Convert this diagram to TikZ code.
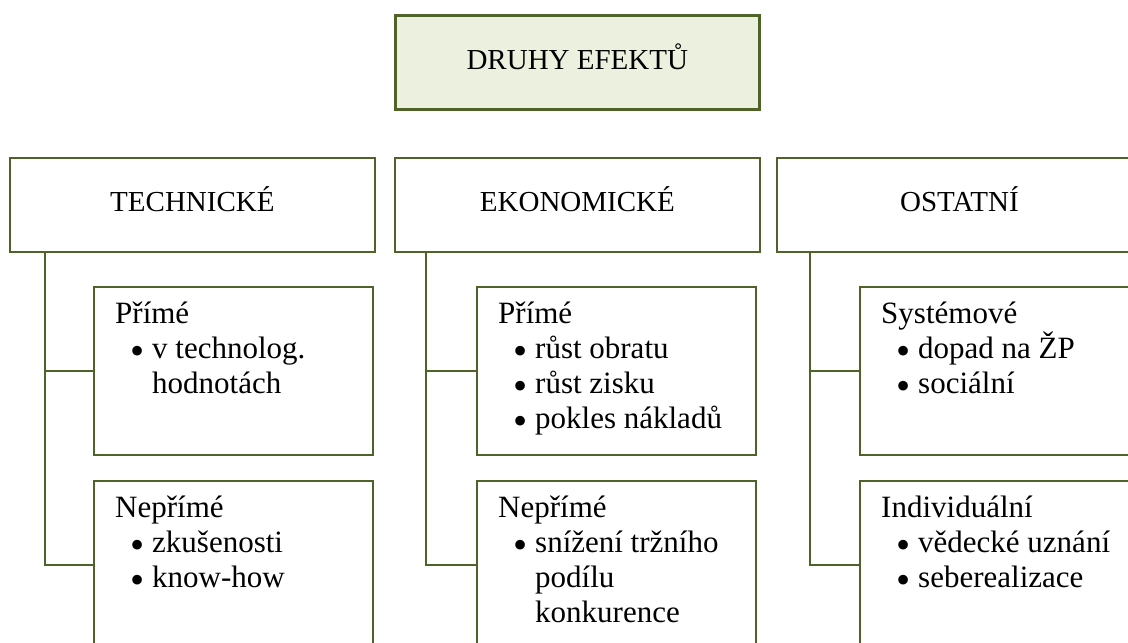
\documentclass[tikz,border=0pt]{standalone}
\usepackage{fontspec}
\setmainfont{Liberation Serif}
\usetikzlibrary{positioning}
\definecolor{olivedark}{HTML}{4F6228}
\definecolor{olivelight}{HTML}{EBF1DE}
\newcommand{\bod}{\hspace*{15pt}\makebox[22pt][l]{\smash{\raisebox{-6pt}{\scalebox{1.3}{\textbullet}}}}}
\newcommand{\odsaz}{\hspace*{37pt}}

\tikzset{
  hlavni/.style={draw=olivedark, line width=2.6pt, fill=olivelight, anchor=north west, inner sep=0pt,
    minimum width=364pt, minimum height=94pt, font=\fontsize{29}{34}\selectfont, text height=20pt, text depth=6pt},
  druh/.style={draw=olivedark, line width=1.8pt, anchor=north west, inner sep=0pt,
    minimum width=365pt, minimum height=94pt, font=\fontsize{29}{34}\selectfont, text height=20pt, text depth=6pt},
  podbox/.style={draw=olivedark, line width=1.8pt, anchor=north west, inner sep=0pt,
    minimum width=279pt, minimum height=168pt},
  popis/.style={anchor=north west, inner sep=0pt, align=left, font=\fontsize{31}{35}\selectfont},
  spoj/.style={draw=olivedark, line width=1.8pt}
}

\begin{document}
\begin{tikzpicture}[x=1pt, y=-1pt]
\useasboundingbox (0,0) rectangle (1128,643);
\clip (0,0) rectangle (1128,643);

% hlavni box
\node[hlavni] (druhy) at (394,14) {DRUHY EFEKTŮ};

% tri druhy
\node[druh] (tech) at (9,157) {TECHNICKÉ};
\node[druh] (ekon) at (394,157) {EKONOMICKÉ};
\node[druh] (ost) at (776,157) {OSTATNÍ};

% technicke
\node[podbox] (techA) at (93,286) {};
\node[podbox] (techB) at (93,480) {};
\node[popis] (techAt) at ([xshift=22pt,yshift=-13pt]techA.north west)
  {\rule{0pt}{24pt}Přímé\\ \bod v technolog.\\ \odsaz hodnotách};
\node[popis] (techBt) at ([xshift=22pt,yshift=-13pt]techB.north west)
  {\rule{0pt}{24pt}Nepřímé\\ \bod zkušenosti\\ \bod know-how};
\draw[spoj] ([xshift=36pt]tech.south west) |- (techA.west);
\draw[spoj] ([xshift=36pt]tech.south west) |- (techB.west);

% ekonomicke
\node[podbox] (ekonA) at (476,286) {};
\node[podbox] (ekonB) at (476,480) {};
\node[popis] (ekonAt) at ([xshift=22pt,yshift=-13pt]ekonA.north west)
  {\rule{0pt}{24pt}Přímé\\ \bod růst obratu\\ \bod růst zisku\\ \bod pokles nákladů};
\node[popis] (ekonBt) at ([xshift=22pt,yshift=-13pt]ekonB.north west)
  {\rule{0pt}{24pt}Nepřímé\\ \bod snížení tržního\\ \odsaz podílu\\ \odsaz konkurence};
\draw[spoj] ([xshift=32pt]ekon.south west) |- (ekonA.west);
\draw[spoj] ([xshift=32pt]ekon.south west) |- (ekonB.west);

% ostatni
\node[podbox] (ostA) at (859,286) {};
\node[podbox] (ostB) at (859,480) {};
\node[popis] (ostAt) at ([xshift=22pt,yshift=-13pt]ostA.north west)
  {\rule{0pt}{24pt}Systémové\\ \bod dopad na ŽP\\ \bod sociální};
\node[popis] (ostBt) at ([xshift=22pt,yshift=-13pt]ostB.north west)
  {\rule{0pt}{24pt}Individuální\\ \bod vědecké uznání\\ \bod seberealizace};
\draw[spoj] ([xshift=34pt]ost.south west) |- (ostA.west);
\draw[spoj] ([xshift=34pt]ost.south west) |- (ostB.west);

\end{tikzpicture}
\end{document}
